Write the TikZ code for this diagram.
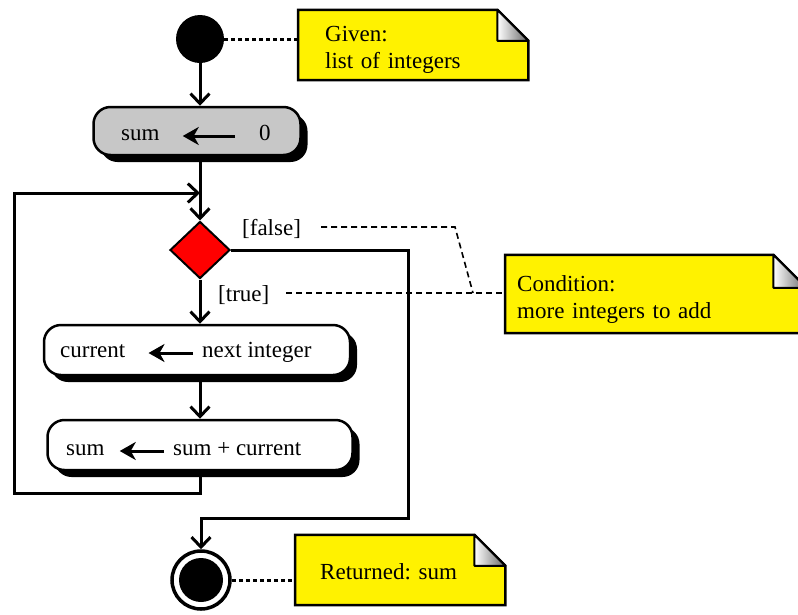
\documentclass[tikz,border=0pt]{standalone}
\usepackage{fontspec}
\setmainfont{Liberation Serif}
\usetikzlibrary{arrows.meta}
\usetikzlibrary{shapes}
\usetikzlibrary{shadows}
\usetikzlibrary{calc}
\pgfdeclarelayer{background}
\pgfsetlayers{background,main}
\frenchspacing

\begin{document}
\begin{tikzpicture}[x=1pt,y=-1pt,
    font=\fontsize{23}{27}\selectfont,
    flow/.style={line width=3pt,-{Straight Barb[length=10pt,width=19pt,line width=3pt]}},
    assign/.style={line width=3pt,-{Stealth[length=16pt,width=18pt,inset=5pt]}},
    action/.style={rectangle,rounded corners=17pt,draw,line width=2.5pt,
      drop shadow={shadow xshift=7pt,shadow yshift=-7pt,fill=black,opacity=1}},
    word/.style={inner sep=0pt,anchor=west,yshift=-4pt,text height=1.95ex,text depth=0pt},
    note/.style={rectangle,align=left,anchor=west,inner ysep=0pt},
    notelink/.style={line width=3pt,dash pattern=on 4pt off 3pt},
    guard/.style={line width=1.6pt,dash pattern=on 6pt off 4pt}]
    \useasboundingbox (0,0) rectangle (798,614);

    % activity nodes
    \node (start) [circle,fill=black,minimum size=48pt,inner sep=0pt] at (200,39) {};
    \node (sumbox) [action,fill=black!22,minimum width=207pt,minimum height=48pt] at (197,131) {};
    \node (dec) [diamond,draw,fill=red,line width=2pt,minimum width=60pt,minimum height=57pt,inner sep=0pt] at (200,250) {};
    \node (curbox) [action,fill=white,minimum width=306pt,minimum height=50pt] at (197,350) {};
    \node (sumcur) [action,fill=white,minimum width=305pt,minimum height=50pt] at (200,445) {};
    \node (stop) [circle,draw,line width=3.5pt,fill=white,minimum size=58pt,inner sep=0pt] at (201,580) {};
    \node (stopdot) [circle,fill=black,minimum size=44pt,inner sep=0pt] at (stop) {};

    % texts in the boxes
    \node (s1) [word] at (121,132) {sum};
    \node (s2) [word] at (259,132) {0};
    \node (c1) [word] at (60,349) {current};
    \node (c2) [word] at (202,349) {next integer};
    \node (a1) [word] at (66,447) {sum};
    \node (a2) [word] at (173,447) {sum + current};
    \draw[assign,shorten <=24pt,shorten >=23pt] (s2.west) -- (s1.east);
    \draw[assign,shorten <=9pt,shorten >=23pt] (c2.west) -- (c1.east);
    \draw[assign,shorten <=9pt,shorten >=15pt] (a2.west) -- (a1.east);

    % guards
    \node (flabel) [word] at (242,227) {[false]};
    \node (tlabel) [word] at (218,293) {[true]};

    % notes (text sits a little below the middle of each note)
    \node (given) [note,text width=176pt,inner xsep=27pt,minimum height=70pt] at (298,50) {Given:\\list of integers};
    \node (cond) [note,text width=277pt,inner xsep=12pt,minimum height=78pt] at (505,299) {Condition:\\more integers to add};
    \node (ret) [note,text width=160pt,inner xsep=25pt,minimum height=70pt] at (295,572) {Returned: sum};
    \begin{pgfonlayer}{background}
      \foreach \n/\f/\s in {given/31/5,cond/33/5,ret/31/2} {
        \draw[line width=2.5pt,fill=yellow] ([yshift=\s pt]\n.south west) -- ([yshift=\s pt]\n.north west)
          -- ([xshift=-\f pt,yshift=\s pt]\n.north east) -- ([yshift=\s pt-\f pt]\n.north east)
          -- ([yshift=\s pt]\n.south east) -- cycle;
        \draw[line width=2pt,left color=white,right color=black!60,line join=round] ([xshift=-\f pt,yshift=\s pt]\n.north east)
          -- ([xshift=-\f pt,yshift=\s pt-\f pt]\n.north east) -- ([yshift=\s pt-\f pt]\n.north east) -- cycle;
      }
    \end{pgfonlayer}

    % control flow
    \coordinate (loopcorner) at (14,493);
    \coordinate (looptop) at (14,193);
    \coordinate (falsecorner) at (408,518);
    \draw[flow] (start.south) -- (start.south |- sumbox.north);
    \draw[flow] (sumbox.south -| dec) -- (dec.north);
    \draw[flow] (dec.south) -- (dec.south |- curbox.north);
    \draw[flow] (curbox.south -| dec) -- (dec |- sumcur.north);
    \draw[flow] (sumcur.south -| dec) |- (loopcorner) -- (looptop) -- (dec |- looptop);
    \draw[flow] (dec.east) -| (falsecorner) -| (stop.north);

    % links to the notes
    \coordinate (bend) at (455,227);
    \coordinate (meet) at (473,293);
    \draw[notelink] (start.east) -- (start.east -| given.west);
    \draw[notelink] (stop.east) -- (stop.east -| ret.west);
    \draw[guard,shorten <=20pt] (flabel.east |- bend) -- (bend) -- (meet);
    \draw[guard,shorten <=17pt] (tlabel.east |- meet) -- (meet -| cond.west);
\end{tikzpicture}
\end{document}
